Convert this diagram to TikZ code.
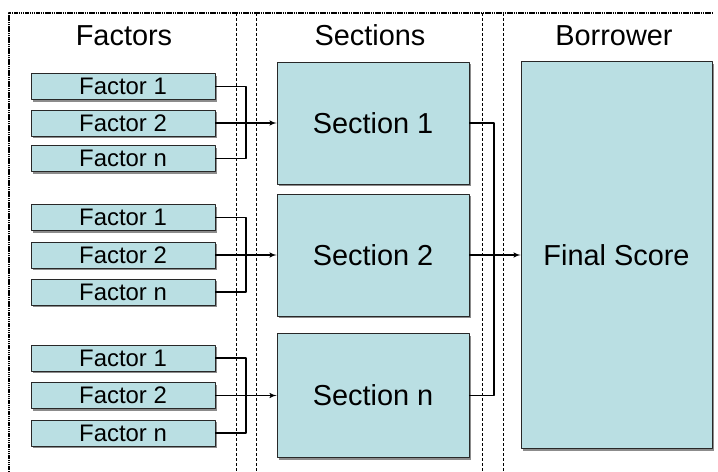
\documentclass[tikz,border=0pt]{standalone}
\usepackage[x11names, svgnames, rgb]{xcolor}
\usepackage{fontspec}
\setmainfont{Liberation Sans}
\usepackage{tikz}
\usetikzlibrary{arrows,shapes,shadows}

\definecolor{boxfill}{RGB}{186,223,227}
\definecolor{boxline}{RGB}{40,40,40}
\definecolor{shadowcol}{RGB}{140,140,140}

\begin{document}
\begin{tikzpicture}[x=1bp,y=-1bp,>=latex',line join=bevel,
	box/.style={draw=boxline,line width=0.9bp,fill=boxfill,inner sep=0pt,
		drop shadow={shadow xshift=2.2bp,shadow yshift=-2.2bp,fill=shadowcol,opacity=1}},
	factor/.style={box,minimum width=184bp,minimum height=26bp,font=\fontsize{24}{26}\selectfont},
	section/.style={box,minimum width=192bp,minimum height=122bp,font=\fontsize{29}{32}\selectfont},
	head/.style={anchor=base,font=\fontsize{29}{32}\selectfont},
	conn/.style={line width=1.5bp},
	divider/.style={line width=0.7bp,dash pattern=on 3bp off 2bp},
	frame/.style={line width=1.6bp,dash pattern=on 1.5bp off 0.7bp}]
		\useasboundingbox (0,0) rectangle (718,472);
		%% frame and column dividers
		\coordinate (tl) at (9,13);
		\coordinate (tr) at (713,13);
		\coordinate (bl) at (9,472);
		\draw [frame] (bl) -- (tl) -- (tr);
		\draw [divider] (236,13) -- (236,472);
		\draw [divider] (256,13) -- (256,472);
		\draw [divider] (482,13) -- (482,472);
		\draw [divider] (503,13) -- (503,472);
		%% headers
		\node (hfac) at (124,46) [head] {Factors};
		\node (hsec) at (370,46) [head] {Sections};
		\node (hbor) at (614,46) [head] {Borrower};
		%% factors
		\node (f11) at (123,86.5) [factor] {Factor 1};
		\node (f12) at (123,123) [factor] {Factor 2};
		\node (f1n) at (123,158.5) [factor] {Factor n};
		\node (f21) at (123,217.5) [factor] {Factor 1};
		\node (f22) at (123,255) [factor] {Factor 2};
		\node (f2n) at (123,292) [factor] {Factor n};
		\node (f31) at (123,358) [factor] {Factor 1};
		\node (f32) at (123,395.5) [factor] {Factor 2};
		\node (f3n) at (123,433) [factor] {Factor n};
		%% sections
		\node (s1) at (373,123) [section] {Section 1};
		\node (s2) at (373,255) [section] {Section 2};
		\node (sn) at (373,395.5) [section,minimum height=124bp] {Section n};
		%% borrower
		\node (final) at (616.5,255) [section,minimum width=191bp,minimum height=387bp] {Final Score};
		%% junctions
		\coordinate (jf) at (246,0);
		\coordinate (js) at (494,0);
		%
		\draw [conn] (f11.east) -- (f11.east -| jf) -- (f1n.east -| jf) -- (f1n.east);
		\draw [conn,->] (f12.east) -- (s1.west);
		\draw [conn] (f21.east) -- (f21.east -| jf) -- (f2n.east -| jf) -- (f2n.east);
		\draw [conn,->] (f22.east) -- (s2.west);
		\draw [conn] (f31.east) -- (f31.east -| jf) -- (f3n.east -| jf) -- (f3n.east);
		\draw [conn,->] (f32.east) -- (sn.west);
		%
		\draw [conn] (s1.east) -- (s1.east -| js) -- (sn.east -| js) -- (sn.east);
		\draw [conn,->] (s2.east) -- (final.west);
		%
	\end{tikzpicture}
\end{document}
